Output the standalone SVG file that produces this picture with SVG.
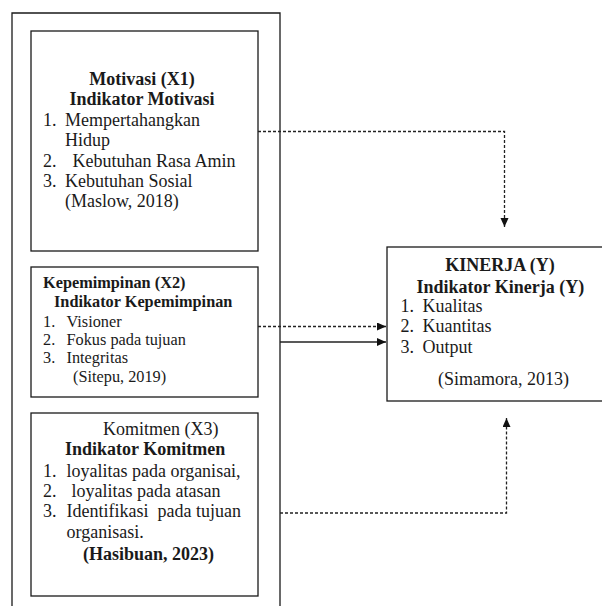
<svg xmlns="http://www.w3.org/2000/svg" width="602" height="606" viewBox="0 0 602 606">
<style>
.box{fill:#fff;stroke:#1a1a1a;stroke-width:1.3}
.t{font-family:"Liberation Serif","Times New Roman",serif;font-size:18px;fill:#1a1a1a}
.s{font-size:16.3px}
.b{font-weight:bold}
.m{text-anchor:middle}
.dash{fill:none;stroke:#222;stroke-width:1.3;stroke-dasharray:3 2}
.solid{fill:none;stroke:#222;stroke-width:1.5}
</style>
<defs>
<marker id="ah" markerUnits="userSpaceOnUse" markerWidth="10" markerHeight="10" refX="9" refY="4" orient="auto">
<path d="M0,0 L9,4 L0,8 Z" fill="#111"/>
</marker>
</defs>
<rect width="602" height="606" fill="#fff"/>
<g id="outer">
<path d="M12,606 V13 H280 V606" fill="none" stroke="#1a1a1a" stroke-width="1.3"/>
</g>
<g id="motivasi">
<rect class="box" x="31" y="31" width="227" height="220"/>
<text class="t b m" x="142" y="85">Motivasi (X1)</text>
<text class="t b m" x="142" y="105">Indikator Motivasi</text>
<text class="t" x="43" y="126">1.</text><text class="t" x="65" y="126">Mempertahangkan</text>
<text class="t" x="65" y="145.5">Hidup</text>
<text class="t" x="43" y="166.5">2.</text><text class="t" x="72.5" y="166.5">Kebutuhan Rasa Amin</text>
<text class="t" x="43" y="186.5">3.</text><text class="t" x="65" y="186.5">Kebutuhan Sosial</text>
<text class="t" x="65" y="206.5">(Maslow, 2018)</text>
</g>
<g id="kepemimpinan">
<rect class="box" x="31" y="267" width="227" height="130"/>
<text class="t s b" x="43" y="288">Kepemimpinan (X2)</text>
<text class="t s b" x="54" y="307">Indikator Kepemimpinan</text>
<text class="t s" x="43" y="327">1.</text><text class="t s" x="66.5" y="327">Visioner</text>
<text class="t s" x="43" y="345">2.</text><text class="t s" x="66.5" y="345">Fokus pada tujuan</text>
<text class="t s" x="43" y="363">3.</text><text class="t s" x="66.5" y="363">Integritas</text>
<text class="t s" x="73" y="382">(Sitepu, 2019)</text>
</g>
<g id="komitmen">
<rect class="box" x="31" y="413" width="227" height="183"/>
<text class="t" x="103" y="435">Komitmen (X3)</text>
<text class="t b" x="65" y="455">Indikator Komitmen</text>
<text class="t" x="43" y="476.5">1.</text><text class="t" x="66.5" y="476.5">loyalitas pada organisai,</text>
<text class="t" x="43" y="496.5">2.</text><text class="t" x="71.5" y="496.5">loyalitas pada atasan</text>
<text class="t" x="43" y="516.5">3.</text><text class="t" x="66.5" y="516.5" xml:space="preserve">Identifikasi  pada tujuan</text>
<text class="t" x="66.5" y="538">organisasi.</text>
<text class="t b" x="83" y="560">(Hasibuan, 2023)</text>
</g>
<g id="kinerja">
<rect class="box" x="387" y="247" width="230" height="154"/>
<text class="t b m" x="500" y="271">KINERJA (Y)</text>
<text class="t b" x="416.5" y="292.5">Indikator Kinerja (Y)</text>
<text class="t" x="400.5" y="312">1.</text><text class="t" x="422.5" y="312">Kualitas</text>
<text class="t" x="400.5" y="332">2.</text><text class="t" x="422.5" y="332">Kuantitas</text>
<text class="t" x="400.5" y="353">3.</text><text class="t" x="422.5" y="353">Output</text>
<text class="t" x="438" y="385">(Simamora, 2013)</text>
</g>
<g id="connectors">
<path class="dash" d="M258,131.5 H504.5 V227" marker-end="url(#ah)"/>
<path class="dash" d="M258,326.5 H386" marker-end="url(#ah)"/>
<path class="solid" d="M280,342 H386" marker-end="url(#ah)"/>
<path class="dash" d="M280,513 H506.5 V418" marker-end="url(#ah)"/>
</g>
</svg>
